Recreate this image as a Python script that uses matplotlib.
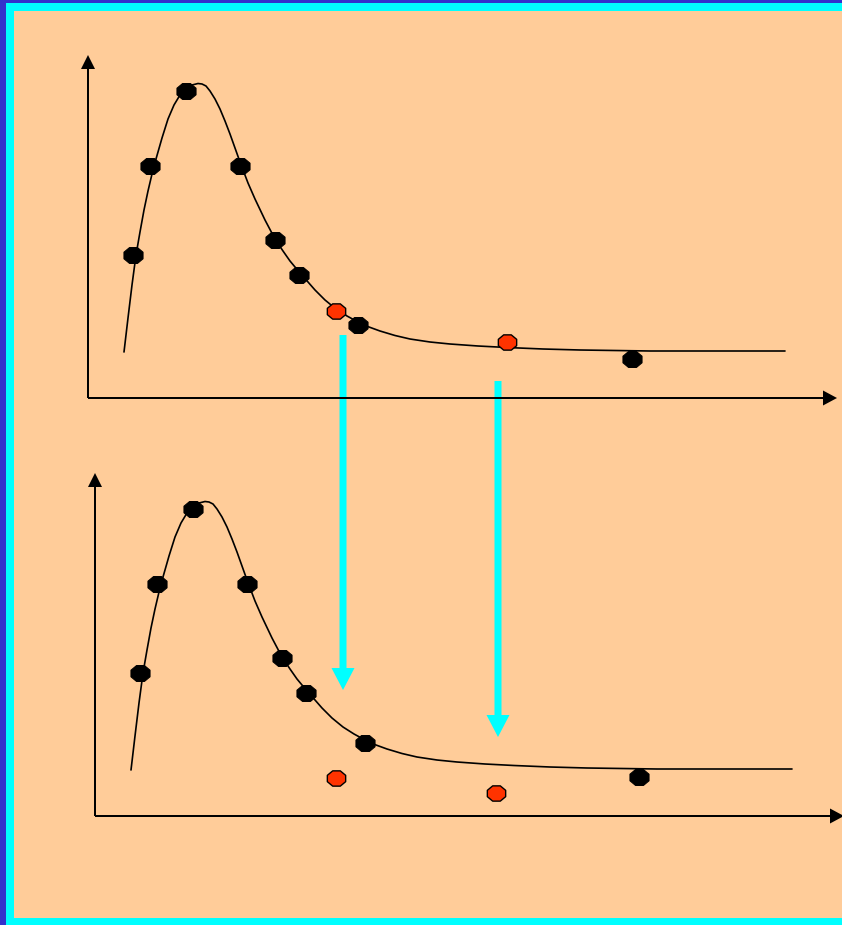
import matplotlib
matplotlib.use("Agg")
import matplotlib.pyplot as plt
import numpy as np
from matplotlib.path import Path
from matplotlib.patches import Rectangle

W, H = 842, 925
PEACH = "#FFCC99"
CYAN = "#00FFFF"
NAVY = "#3333CC"
RED = "#FF3300"

# fitted curve (same in both panels), units above the x-axis
curve_x = [36, 40, 44, 48, 52, 56, 60, 64, 68, 74, 80, 86, 92, 98, 104,
           110, 114, 118, 122, 127, 132, 137, 142, 147, 152, 160, 167, 177,
           187, 195, 202, 212, 220, 227, 237, 248, 259, 270, 281, 292, 307,
           322, 342, 362, 390, 419, 455, 492, 562, 632, 697]
curve_y = [46, 80, 113, 143, 166, 188, 207, 224, 239, 260, 279, 293, 303,
           310, 313, 314.5, 314, 312, 307, 299, 289, 277, 264, 250, 236, 215,
           199, 178, 159, 147, 137, 125, 116, 108, 98, 89, 82, 76, 71, 67,
           62.5, 59, 56, 54, 52, 50.5, 49, 48, 47, 47, 47]

# measured points
black_x = [45, 62, 98, 152, 187, 211, 270, 544]
black_y = [143, 232, 307, 232, 158, 123, 73, 39]

# the two highlighted points, before and after
red_x_top = [248, 419]
red_y_top = [87, 56]
red_x_bottom = [241, 401]
red_y_bottom = [38, 23]

# slightly wide octagon marker
ang = np.deg2rad(22.5 + 45 * np.arange(8))
octagon = Path(np.column_stack([1.2 * np.cos(ang), np.sin(ang)]).tolist() + [[0, 0]],
               [Path.MOVETO] + [Path.LINETO] * 7 + [Path.CLOSEPOLY])

fig = plt.figure(figsize=(W / 100, H / 100), dpi=100, facecolor=PEACH)

# background layer in pixel units: frame and the two cyan arrows
bg = fig.add_axes([0, 0, 1, 1])
bg.set_xlim(0, W)
bg.set_ylim(H, 0)
bg.axis("off")
bg.add_patch(Rectangle((0, 0), 6, H, color=NAVY, lw=0))
bg.add_patch(Rectangle((0, 0), W, 3, color=NAVY, lw=0))
bg.add_patch(Rectangle((6, 3), W, 8, color=CYAN, lw=0))
bg.add_patch(Rectangle((6, 3), 8, H, color=CYAN, lw=0))
bg.add_patch(Rectangle((6, 918), W, 7, color=CYAN, lw=0))
bg.arrow(343, 335, 0, 355, width=7, head_width=23, head_length=22,
         length_includes_head=True, color=CYAN, lw=0)
bg.arrow(498, 381, 0, 356, width=7, head_width=23, head_length=22,
         length_includes_head=True, color=CYAN, lw=0)


def panel(ox, oy, top, red_x, red_y):
    # ox, oy: pixel position of the origin; top: pixel row of the panel top
    ax = fig.add_axes([ox / W, (H - oy) / H, (W - ox) / W, (oy - top) / H])
    ax.set_xlim(0, W - ox)
    ax.set_ylim(0, oy - top)
    ax.axis("off")
    ax.patch.set_alpha(0)
    ax.arrow(0, 0, 749, 0, width=2, head_width=15, head_length=14,
             length_includes_head=True, color="black", lw=0, clip_on=False)
    ax.arrow(0, 0, 0, 343, width=2, head_width=14, head_length=14,
             length_includes_head=True, color="black", lw=0, clip_on=False)
    ax.plot(curve_x, curve_y, color="black", lw=1.2,
            solid_joinstyle="round", solid_capstyle="round")
    ax.plot(black_x, black_y, ls="none", marker=octagon, ms=13.7,
            mfc="black", mec="black", mew=0.8)
    ax.plot(red_x, red_y, ls="none", marker=octagon, ms=13.2,
            mfc=RED, mec="black", mew=1.0)
    return ax


panel(88, 398, 40, red_x_top, red_y_top)
panel(95, 816, 458, red_x_bottom, red_y_bottom)

fig.savefig("out.png", dpi=100, facecolor=PEACH)
